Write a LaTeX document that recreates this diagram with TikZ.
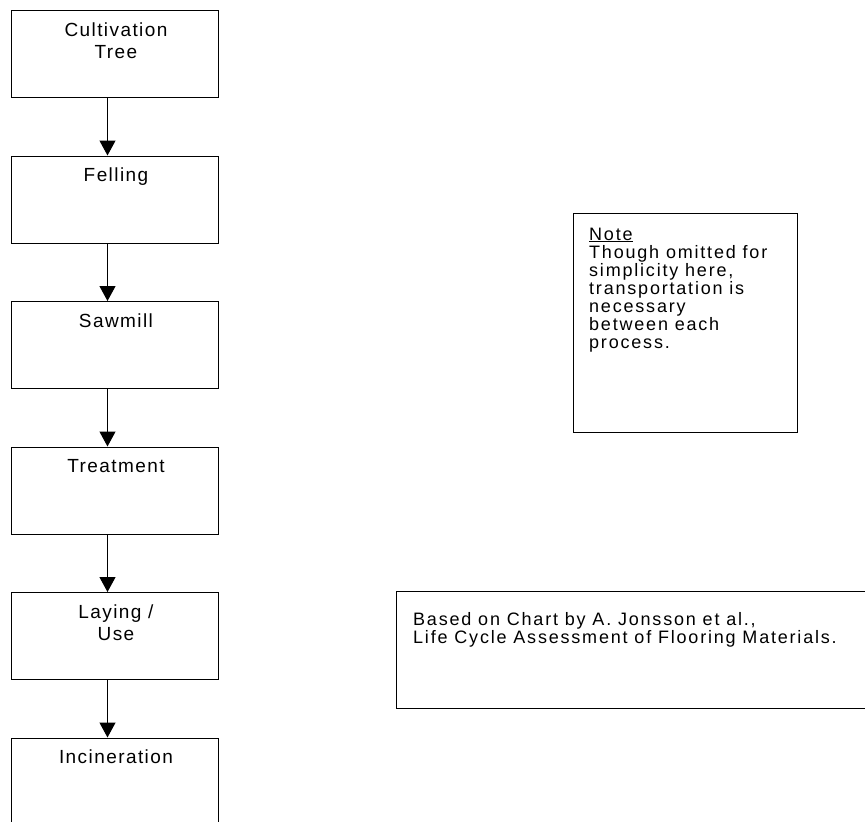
\documentclass[tikz,border=0pt]{standalone}
\usepackage{fontspec}
\setmainfont{Liberation Sans}[LetterSpace=7.5]
\newfontfamily\notefont{Liberation Sans}[LetterSpace=10]
\usetikzlibrary{arrows.meta}
\begin{document}
\begin{tikzpicture}[x=1pt,y=-1pt,
  box/.style={draw, line width=1.2pt, minimum width=207pt, minimum height=87pt, inner sep=0pt, anchor=north west},
  frame/.style={draw, line width=1.2pt, inner sep=0pt, anchor=north west},
  lbl/.style={font=\fontsize{19}{22}\selectfont, inner sep=0pt, anchor=base},
  nt/.style={font=\notefont\fontsize{18}{21}\selectfont, inner sep=0pt, anchor=base west},
  arr/.style={line width=1.2pt, -{Triangle[width=16pt,length=15pt]}}]
\useasboundingbox (0,0) rectangle (865,822);
\begin{scope}
\clip (0,0) rectangle (865,822);
% process boxes
\node[box] (b1) at (11,10) {};
\node[box] (b2) at (11,155.5) {};
\node[box] (b3) at (11,301) {};
\node[box] (b4) at (11,446.5) {};
\node[box] (b5) at (11,592) {};
\node[box] (b6) at (11,737.5) {};
% labels
\node[lbl] (t1a) at (116,36) {Cultivation};
\node[lbl] (t1b) at (116,58) {Tree};
\node[lbl] (t2) at (116,181.5) {Felling};
\node[lbl] (t3) at (116,327) {Sawmill};
\node[lbl] (t4) at (116,472.5) {Treatment};
\node[lbl] (t5a) at (116,618) {Laying /};
\node[lbl] (t5b) at (116,640) {Use};
\node[lbl] (t6) at (116,763.5) {Incineration};
% arrows
\coordinate (ax) at (107.5,0);
\draw[arr] (b1.south -| ax) -- (b2.north -| ax);
\draw[arr] (b2.south -| ax) -- (b3.north -| ax);
\draw[arr] (b3.south -| ax) -- (b4.north -| ax);
\draw[arr] (b4.south -| ax) -- (b5.north -| ax);
\draw[arr] (b5.south -| ax) -- (b6.north -| ax);
% note box
\node[frame, minimum width=224.3pt, minimum height=219pt] (note) at (572.7,213) {};
\node[nt] (n1) at (589,240) {\underline{Note}};
\node[nt] (n2) at (589,258) {Though omitted for};
\node[nt] (n3) at (589,276) {simplicity here,};
\node[nt] (n4) at (589,294) {transportation is};
\node[nt] (n5) at (589,312) {necessary};
\node[nt] (n6) at (589,330) {between each};
\node[nt] (n7) at (589,348) {process.};
% source box
\node[frame, minimum width=490pt, minimum height=117pt] (src) at (396,591) {};
\node[nt] (s1) at (413,625) {Based on Chart by A. Jonsson et al.,};
\node[nt] (s2) at (413,643) {Life Cycle Assessment of Flooring Materials.};
\end{scope}
\end{tikzpicture}
\end{document}
